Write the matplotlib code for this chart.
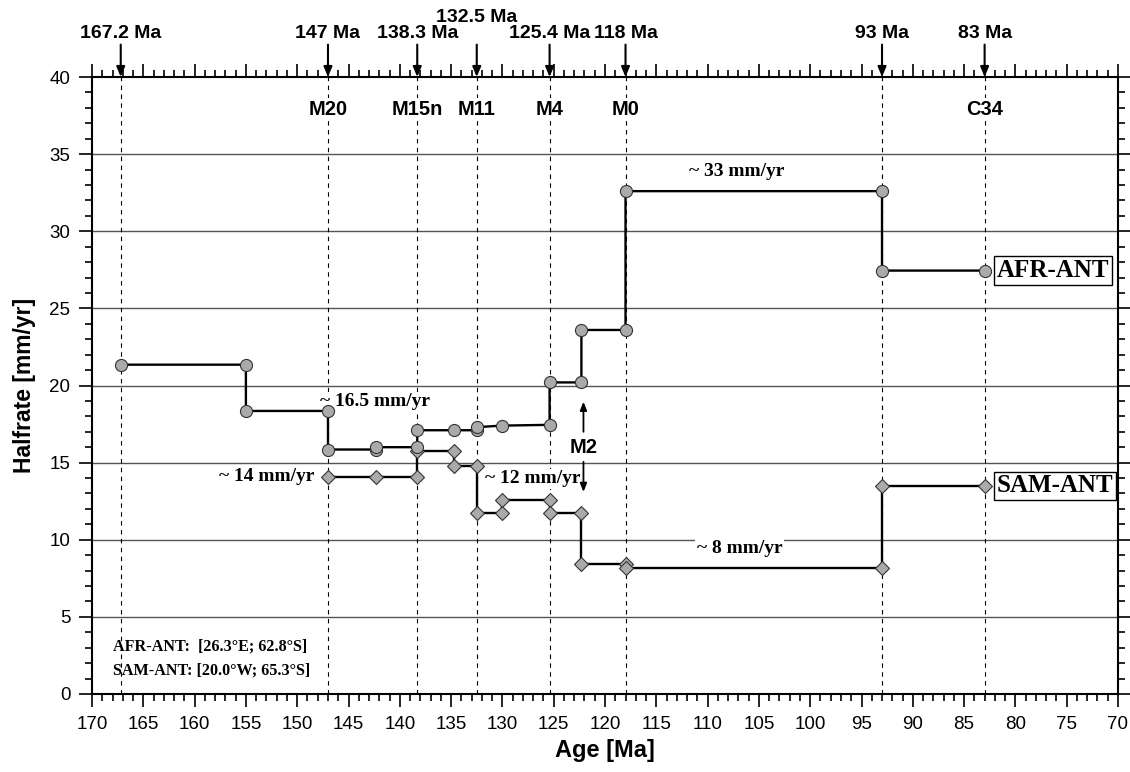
import matplotlib
matplotlib.use('Agg')
import matplotlib.pyplot as plt
from matplotlib.ticker import MultipleLocator

# half spreading rates, step functions (age in Ma, rate in mm/yr)
afr_age = [167.2, 155.0, 155.0, 147.0, 147.0, 142.3, 142.3, 138.3, 138.3, 134.75, 132.5,
           132.5, 130.0, 125.4, 125.4, 122.3, 122.3, 118.0, 118.0, 93.0, 93.0, 83.0]
afr_rate = [21.35, 21.35, 18.35, 18.35, 15.85, 15.85, 16.0, 16.0, 17.1, 17.1, 17.1,
            17.3, 17.4, 17.45, 20.2, 20.2, 23.6, 23.6, 32.6, 32.6, 27.45, 27.45]

sam_age = [147.0, 142.3, 138.3, 138.3, 134.75, 134.75, 132.5, 132.5, 130.0, 130.0,
           125.4, 125.4, 122.3, 122.3, 118.0, 118.0, 93.0, 93.0, 83.0]
sam_rate = [14.1, 14.1, 14.1, 15.75, 15.75, 14.75, 14.75, 11.75, 11.75, 12.55,
            12.55, 11.75, 11.75, 8.45, 8.45, 8.15, 8.15, 13.5, 13.5]

# reference ages on top
ref_age = [167.2, 147.0, 138.3, 132.5, 125.4, 118.0, 93.0, 83.0]
ref_label = ['167.2 Ma', '147 Ma', '138.3 Ma', '132.5 Ma', '125.4 Ma', '118 Ma', '93 Ma', '83 Ma']
ref_raise = [0, 0, 0, 1, 0, 0, 0, 0]

chron_age = [147.0, 138.3, 132.5, 125.4, 118.0, 83.0]
chron_name = ['M20', 'M15n', 'M11', 'M4', 'M0', 'C34']

# rate annotations: text, age, rate, alignment
rate_text = ['~ 33 mm/yr', '~ 16.5 mm/yr', '~ 14 mm/yr', '~ 12 mm/yr', '~ 8 mm/yr']
rate_x = [107.2, 142.4, 148.3, 127.05, 106.9]
rate_y = [33.85, 18.95, 14.07, 13.95, 9.45]
rate_ha = ['center', 'center', 'right', 'center', 'center']

sans = 'Liberation Sans'
serif = 'Liberation Serif'
plt.rcParams['font.family'] = sans

fig = plt.figure(figsize=(11.3, 7.72), dpi=100)
ax = fig.add_axes([92 / 1130, 1 - 694 / 772, 1026 / 1130, 617 / 772])

ax.set_xlim(170, 70)
ax.set_ylim(0, 40)

# horizontal grid
for yv in range(5, 40, 5):
    ax.axhline(yv, color='#555555', lw=1.0, zorder=1)

# dashed reference lines
for a in ref_age:
    ax.axvline(a, color='black', lw=0.8, ls=(0, (4, 4)), zorder=2)

ax.plot(sam_age, sam_rate, color='black', lw=1.7, marker='D', ms=7.4,
        mfc='#aaaaaa', mec='#333333', mew=0.8, zorder=4)
ax.plot(afr_age, afr_rate, color='black', lw=1.7, marker='o', ms=8.7,
        mfc='#aaaaaa', mec='#333333', mew=0.8, zorder=5)

# top labels with arrows
for a, lab, r in zip(ref_age, ref_label, ref_raise):
    ax.text(a, 42.85 + r * 0.98, lab, ha='center', va='center', fontsize=14,
            fontweight='bold', clip_on=False)
    ax.annotate('', xy=(a, 40.0), xytext=(a, 42.1), annotation_clip=False,
                arrowprops=dict(arrowstyle='-|>,head_length=0.6,head_width=0.25',
                                color='black', lw=1.5, shrinkA=0, shrinkB=0))

for a, name in zip(chron_age, chron_name):
    ax.text(a, 37.87, name, ha='center', va='center', fontsize=14.5, fontweight='bold',
            bbox=dict(facecolor='white', edgecolor='none', pad=1.5), zorder=3)

for t, x, y, h in zip(rate_text, rate_x, rate_y, rate_ha):
    ax.text(x, y, t, ha=h, va='center', fontsize=14, fontweight='bold', family=serif,
            bbox=dict(facecolor='white', edgecolor='none', pad=1.0), zorder=3)

# M2
ax.text(122.1, 16.0, 'M2', ha='center', va='center', fontsize=14.5, fontweight='bold', zorder=6)
ax.annotate('', xy=(122.1, 18.95), xytext=(122.1, 17.0),
            arrowprops=dict(arrowstyle='-|>,head_length=0.5,head_width=0.2',
                            color='black', lw=1.3, shrinkA=0, shrinkB=0))
ax.annotate('', xy=(122.1, 13.1), xytext=(122.1, 15.05),
            arrowprops=dict(arrowstyle='-|>,head_length=0.5,head_width=0.2',
                            color='black', lw=1.3, shrinkA=0, shrinkB=0))

# series labels
for lab, y in zip(['AFR-ANT', 'SAM-ANT'], [27.45, 13.5]):
    ax.text(81.85, y, lab, ha='left', va='center', fontsize=18, fontweight='bold',
            family=serif, zorder=6,
            bbox=dict(facecolor='white', edgecolor='black', lw=1.0, pad=2.0))

ax.text(168.0, 3.1, 'AFR-ANT:  [26.3°E; 62.8°S]', ha='left', va='center',
        fontsize=11.6, fontweight='bold', family=serif)
ax.text(168.0, 1.55, 'SAM-ANT: [20.0°W; 65.3°S]', ha='left', va='center',
        fontsize=11.6, fontweight='bold', family=serif)

ax.xaxis.set_major_locator(MultipleLocator(5))
ax.xaxis.set_minor_locator(MultipleLocator(1))
ax.yaxis.set_major_locator(MultipleLocator(5))
ax.yaxis.set_minor_locator(MultipleLocator(1))
ax.tick_params(which='both', direction='out', top=True, right=True, width=1.2,
               labelsize=13.5)
ax.tick_params(which='major', length=9.5, pad=6)
ax.tick_params(which='minor', length=5)
for s in ax.spines.values():
    s.set_linewidth(1.5)

ax.set_xlabel('Age [Ma]', fontsize=17, fontweight='bold', labelpad=5)
ax.set_ylabel('Halfrate [mm/yr]', fontsize=16.5, fontweight='bold', labelpad=10)

fig.savefig('out.png', dpi=100)
